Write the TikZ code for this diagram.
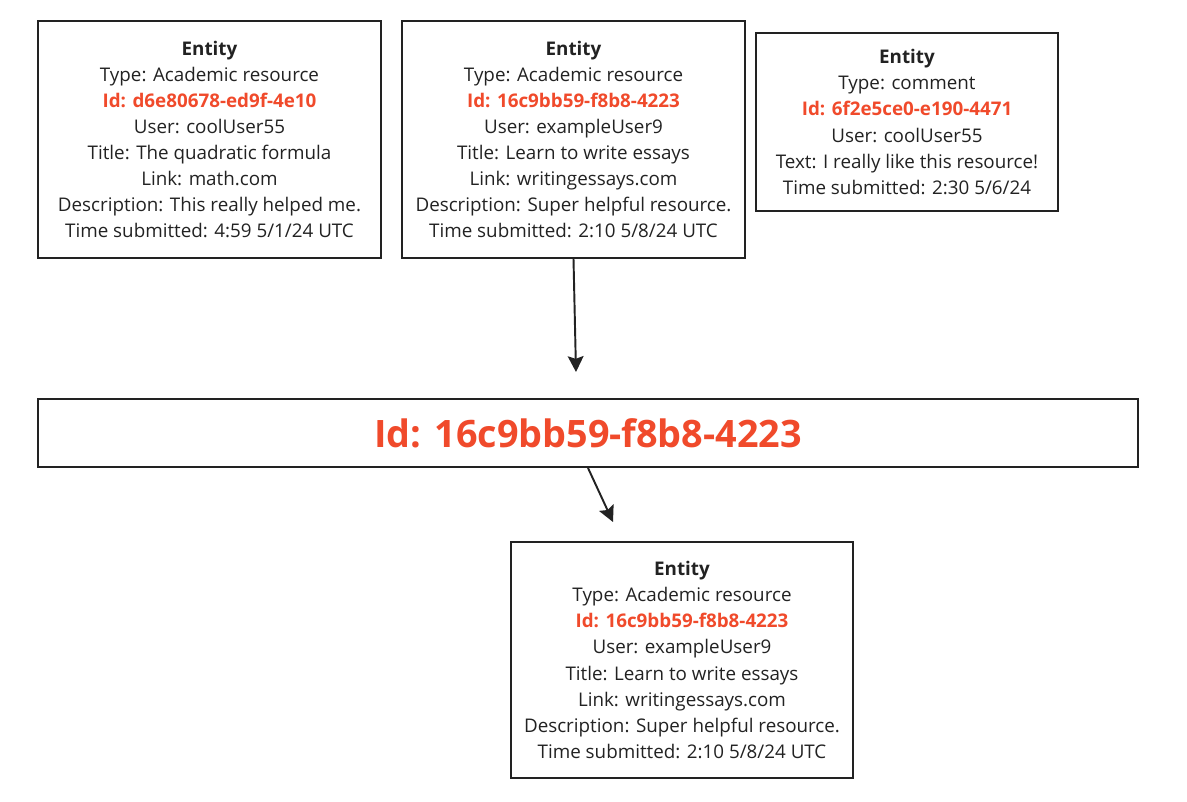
\documentclass[tikz,border=0pt]{standalone}
\usepackage{fontspec}
\setmainfont{Open Sans}
\usetikzlibrary{arrows.meta}
\definecolor{idred}{HTML}{F04A2B}
\definecolor{inkgray}{HTML}{222222}
\newcommand{\idline}[1]{{\color{idred}\bfseries Id: #1}}

\begin{document}
\begin{tikzpicture}[transform shape,
	entity/.style={draw=inkgray, line width=1.1pt, text=inkgray, align=center, inner sep=0pt, font=\fontsize{10.7}{14.85}\selectfont},
	link/.style={draw=inkgray, line width=1.1pt, -{Stealth[length=9pt, width=9pt, inset=1.5pt]}}]
	\useasboundingbox (0, 0) rectangle (23.74, -16.02);
	% Entities, lookup key and links:
	\node[entity, minimum width=6.86cm, minimum height=4.74cm] (res1) at (4.19, -2.79){\textbf{Entity}\\Type: Academic resource\\\idline{d6e80678-ed9f-4e10}\\User: coolUser55\\Title: The quadratic formula\\Link: math.com\\Description: This really helped me.\\Time submitted: 4:59 5/1/24 UTC};
	\node[entity, minimum width=6.86cm, minimum height=4.74cm] (res2) at (11.47, -2.79){\textbf{Entity}\\Type: Academic resource\\\idline{16c9bb59-f8b8-4223}\\User: exampleUser9\\Title: Learn to write essays\\Link: writingessays.com\\Description: Super helpful resource.\\Time submitted: 2:10 5/8/24 UTC};
	\node[entity, minimum width=6.04cm, minimum height=3.56cm] (comm) at (18.14, -2.44){\textbf{Entity}\\Type: comment\\\idline{6f2e5ce0-e190-4471}\\User: coolUser55\\Text: I really like this resource!\\Time submitted: 2:30 5/6/24};
	\node[entity, minimum width=22cm, minimum height=1.36cm, font=\fontsize{21.5}{24}\selectfont] (key) at (11.76, -8.66){\idline{16c9bb59-f8b8-4223}};
	\node[entity, minimum width=6.84cm, minimum height=4.72cm] (found) at (13.64, -13.2){\textbf{Entity}\\Type: Academic resource\\\idline{16c9bb59-f8b8-4223}\\User: exampleUser9\\Title: Learn to write essays\\Link: writingessays.com\\Description: Super helpful resource.\\Time submitted: 2:10 5/8/24 UTC};
	\coordinate (keyin) at (11.52, -7.44);
	\coordinate (hitout) at (12.26, -10.44);
	\draw[link] (res2.south) -- (keyin);
	\draw[link] (key.south) -- (hitout);
\end{tikzpicture}
\end{document}
